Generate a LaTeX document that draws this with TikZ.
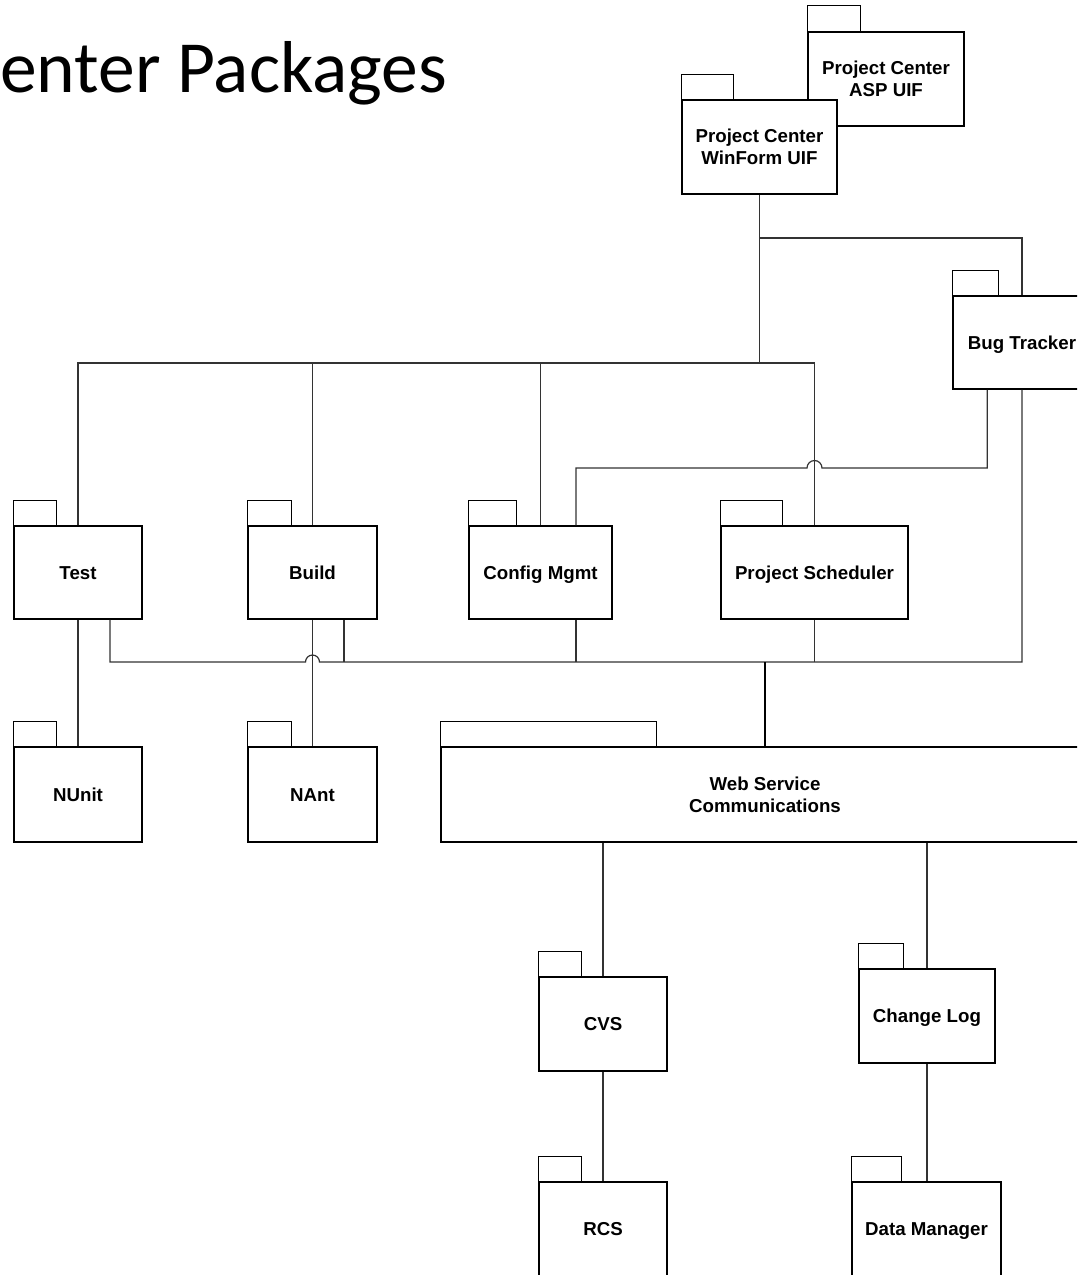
\documentclass[tikz,border=0pt]{standalone}
\usepackage{fontspec}
\setmainfont{Liberation Sans}
\newfontfamily\titlefont{Carlito}
\usetikzlibrary{calc}
\tikzset{
  % Package body
  pkgbox/.style={
    rectangle, draw=black, line width=1.5pt, fill=white,
    minimum width=#1, minimum height=94pt, inner sep=0pt,
    text height=13.4pt, text depth=0pt,
    align=center, font=\fontsize{18.7}{22}\selectfont\bfseries
  },
  % Two-line package label
  twoline/.style={text height={}, text depth={}},
  % Package tab
  pkgtab/.style={draw=black, line width=1.5pt, fill=white},
  % Dependency line
  link/.style={draw=black!80, line width=1.2pt},
  % Heavier line into the web service
  wslink/.style={draw=black, line width=1.8pt},
}

\begin{document}
\begin{tikzpicture}[x=1pt, y=1pt]

\useasboundingbox (0,0) rectangle (1077,-1275);
\clip (0,0) rectangle (1077,-1275);

% ── Title ─────────────────────────────────────────────────────────────────────
\node[anchor=base west, inner sep=0pt,
      font=\titlefont\fontsize{73.5}{80}\selectfont]
  (title) at (0,-92) {enter Packages};

% ── User interface packages ───────────────────────────────────────────────────
\node[pkgbox=156pt, twoline] (asp) at (886,-79) {Project Center\\ASP UIF};
\draw[pkgtab] (asp.north west) rectangle ++(53,26);
\node[pkgbox=155pt, twoline] (winform) at (759.5,-147) {Project Center\\WinForm UIF};

\node[pkgbox=138pt, minimum height=93pt] (bug) at (1022,-342.5) {Bug Tracker};

% ── Tool packages ─────────────────────────────────────────────────────────────
\node[pkgbox=128pt, minimum height=93pt] (test)   at (78,-572.5)    {Test};
\node[pkgbox=129pt, minimum height=93pt] (build)  at (312.5,-572.5) {Build};
\node[pkgbox=143pt, minimum height=93pt] (config) at (540.5,-572.5) {Config Mgmt};
\node[pkgbox=187pt, minimum height=93pt] (sched)  at (814.5,-572.5) {Project Scheduler};

\node[pkgbox=128pt, minimum height=95pt] (nunit) at (78,-794.5)    {NUnit};
\node[pkgbox=129pt, minimum height=95pt] (nant)  at (312.5,-794.5) {NAnt};
\node[pkgbox=648pt, minimum height=95pt, twoline] (ws) at (765,-794.5)
  {Web Service\\Communications};

% ── Storage packages ──────────────────────────────────────────────────────────
\node[pkgbox=128pt] (cvs)       at (603,-1024)   {CVS};
\node[pkgbox=136pt] (changelog) at (927,-1016)   {Change Log};
\node[pkgbox=128pt] (rcs)       at (603,-1229)   {RCS};
\node[pkgbox=149pt] (dataman)   at (926.5,-1229) {Data Manager};

% Tabs
\foreach \n/\w in {winform/52, bug/46, test/43, build/44, config/48,
                   sched/62, nunit/43, nant/44, ws/216, cvs/43,
                   changelog/45, rcs/43, dataman/50}{
  \draw[pkgtab] (\n.north west) rectangle ++(\w,25);
}

% ── Dependencies ──────────────────────────────────────────────────────────────
\coordinate (upbus)    at (759.5,-363);
\coordinate (uibranch) at (759.5,-238);
\coordinate (cmbus)    at (0,-468);
\coordinate (lowbus)   at (0,-662);

\draw[link] (winform.south) -- (upbus) -| (test.north);
\draw[link] (upbus) -| (build.north);
\draw[link] (upbus) -| (config.north);
\draw[link] (upbus) -| (sched.north);
\draw[link] (uibranch) -| (bug.north);

% Bug tracker to config mgmt, hopping over the scheduler line
\coordinate (bugout) at ($(bug.south west)+(35,0)$);
\coordinate (cmin)   at ($(config.north)+(35.5,0)$);
\draw[link] (bugout) -- (bugout |- cmbus)
  -- ($(sched.north |- cmbus)+(7.5,0)$)
  arc[start angle=0, end angle=180, radius=7.5pt]
  -- (cmin |- cmbus) -- (cmin);

% Lower bus, hopping over the build line
\coordinate (testout)  at ($(test.south)+(32,0)$);
\coordinate (buildout) at ($(build.south)+(31.5,0)$);
\coordinate (cmout)    at ($(config.south)+(35.5,0)$);
\draw[link] (testout) -- (testout |- lowbus)
  -- ($(build.south |- lowbus)+(-7,0)$)
  arc[start angle=180, end angle=0, radius=7pt]
  -- (bug.south |- lowbus) -- (bug.south);
\draw[link] (buildout) -- (buildout |- lowbus);
\draw[link] (cmout) -- (cmout |- lowbus);
\draw[link] (sched.south) -- (sched.south |- lowbus);
\draw[wslink] (ws.north) -- (ws.north |- lowbus);

\draw[link] (test.south) -- (nunit.north);
\draw[link] (build.south) -- (nant.north);
\draw[link] (cvs.north |- ws.south) -- (cvs.north);
\draw[link] (changelog.north |- ws.south) -- (changelog.north);
\draw[link] (cvs.south) -- (rcs.north);
\draw[link] (changelog.south) -- (changelog.south |- dataman.north);

\end{tikzpicture}
\end{document}
